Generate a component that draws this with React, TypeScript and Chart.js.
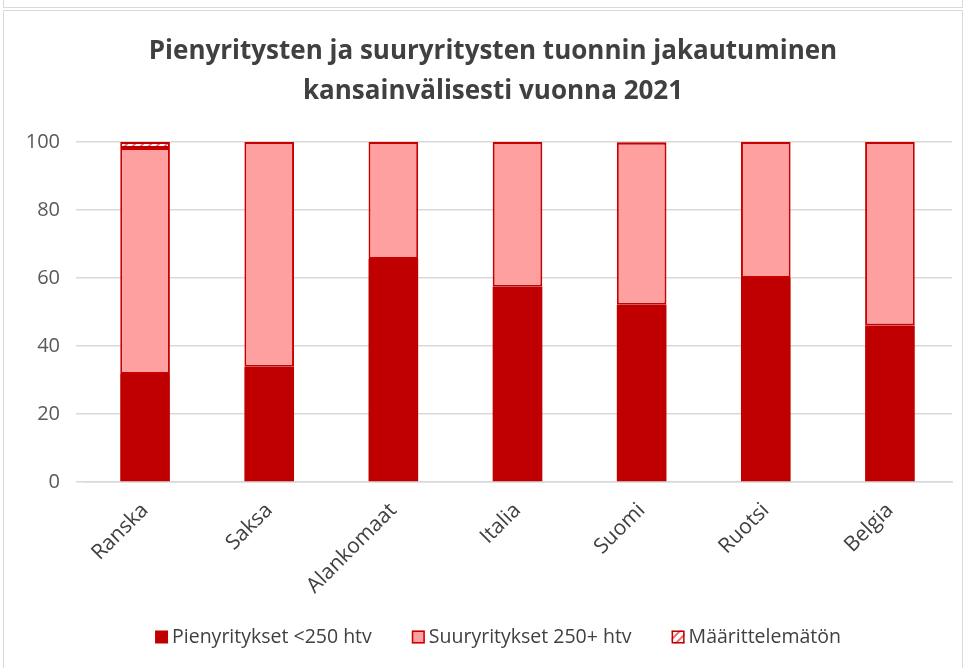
import React, { useEffect, useRef } from "react";
import { Chart, registerables } from "chart.js";

Chart.register(...registerables);

const titleLines = [
  "Pienyritysten ja suuryritysten tuonnin jakautuminen",
  "kansainvälisesti vuonna 2021",
];
const categories = ["Ranska", "Saksa", "Alankomaat", "Italia", "Suomi", "Ruotsi", "Belgia"];
const seriesNames = ["Pienyritykset <250 htv", "Suuryritykset 250+ htv", "Määrittelemätön"];
const pienValues = [31.8, 33.9, 65.6, 57.4, 52.1, 60.0, 46.0];
const suurValues = [66.4, 66.1, 34.4, 42.6, 47.7, 40.0, 54.0];
const maarValues = [1.8, 0, 0, 0, 0.2, 0, 0];
const yTicks = [0, 20, 40, 60, 80, 100];

const FONT = "'Open Sans', 'DejaVu Sans', sans-serif";

function makePattern(): CanvasPattern | string {
  const c = document.createElement("canvas");
  c.width = 8;
  c.height = 8;
  const ctx = c.getContext("2d");
  if (!ctx) return "#ffffff";
  ctx.fillStyle = "#ffffff";
  ctx.fillRect(0, 0, 8, 8);
  ctx.strokeStyle = "#f07070";
  ctx.lineWidth = 2;
  ctx.beginPath();
  ctx.moveTo(-2, 10);
  ctx.lineTo(10, -2);
  ctx.moveTo(-6, 6);
  ctx.lineTo(6, -6);
  ctx.moveTo(2, 14);
  ctx.lineTo(14, 2);
  ctx.stroke();
  const p = ctx.createPattern(c, "repeat");
  return p || "#ffffff";
}

// Shift the title block so it is centred like the original
const titleShift = {
  id: "titleShift",
  afterLayout(chart: any) {
    if (chart.titleBlock) {
      chart.titleBlock.left += 30;
    }
  },
};

// Custom bottom legend (Excel-like spacing)
const bottomLegend = {
  id: "bottomLegend",
  afterDraw(chart: any) {
    const ctx = chart.ctx as CanvasRenderingContext2D;
    const box = 13;
    const gap = 4;
    const spacing = 40;
    const centerX = chart.width / 2 + 15;
    const centerY = 626;
    ctx.save();
    ctx.font = `19.5px ${FONT}`;
    ctx.textBaseline = "middle";
    ctx.textAlign = "left";
    const items = chart.data.datasets.map((ds: any) => ({
      text: ds.label as string,
      fill: ds.backgroundColor,
      stroke: ds.borderColor,
      bw: ds.borderWidth || 0,
      w: ctx.measureText(ds.label).width,
    }));
    const total =
      items.reduce((s: number, it: any) => s + box + gap + it.w, 0) + spacing * (items.length - 1);
    let x = centerX - total / 2;
    for (const it of items) {
      ctx.fillStyle = it.fill;
      ctx.fillRect(x, centerY - box / 2, box, box);
      if (it.bw > 0) {
        ctx.strokeStyle = it.stroke;
        ctx.lineWidth = 1.5;
        ctx.strokeRect(x + 0.75, centerY - box / 2 + 0.75, box - 1.5, box - 1.5);
      }
      ctx.fillStyle = "#404040";
      ctx.fillText(it.text, x + box + gap, centerY);
      x += box + gap + it.w + spacing;
    }
    ctx.restore();
  },
};

export default function App() {
  const canvasRef = useRef<HTMLCanvasElement | null>(null);

  useEffect(() => {
    const canvas = canvasRef.current;
    if (!canvas) return;
    const pattern = makePattern();
    const chart = new Chart(canvas, {
      type: "bar",
      data: {
        labels: categories,
        datasets: [
          {
            label: seriesNames[0],
            data: pienValues,
            backgroundColor: "#c00000",
            borderColor: "#c00000",
            borderWidth: 0,
            borderSkipped: false,
          },
          {
            label: seriesNames[1],
            data: suurValues,
            backgroundColor: "#ffa0a0",
            borderColor: "#c80000",
            borderWidth: 2,
            borderSkipped: false,
          },
          {
            label: seriesNames[2],
            data: maarValues,
            backgroundColor: pattern as any,
            borderColor: "#c00000",
            borderWidth: 2,
            borderSkipped: false,
          },
        ],
      },
      options: {
        responsive: false,
        animation: false,
        datasets: {
          bar: {
            categoryPercentage: 1,
            barPercentage: 0.4,
          },
        },
        layout: {
          padding: { left: 0, right: 10, top: 0, bottom: 0 },
        },
        scales: {
          x: {
            stacked: true,
            grid: { display: false },
            border: { display: true, color: "#d9d9d9", width: 1.5 },
            ticks: {
              color: "#404040",
              font: { family: FONT, size: 21 },
              maxRotation: 45,
              minRotation: 45,
              padding: 8,
            },
            afterFit: (scale: any) => {
              scale.height = 186;
            },
          },
          y: {
            stacked: true,
            min: 0,
            max: 100,
            afterBuildTicks: (scale: any) => {
              scale.ticks = yTicks.map((v) => ({ value: v }));
            },
            grid: {
              color: "#d9d9d9",
              lineWidth: 1.5,
              drawTicks: true,
              tickLength: 7,
            },
            border: { display: false },
            ticks: {
              color: "#595959",
              font: { family: FONT, size: 20 },
              padding: 16,
            },
            afterFit: (scale: any) => {
              scale.width = 79;
            },
          },
        },
        plugins: {
          title: {
            display: true,
            text: titleLines,
            color: "#404040",
            font: { family: FONT, size: 26, weight: "bold", lineHeight: 40 / 26 },
            padding: { top: 21, bottom: 30 },
          },
          legend: { display: false },
          tooltip: { enabled: false },
        },
      } as any,
      plugins: [titleShift, bottomLegend],
    });
    return () => {
      chart.destroy();
    };
  }, []);

  return (
    <div style={{ position: "absolute", left: 0, top: 0, width: 966, height: 668, overflow: "hidden", background: "#ffffff" }}>
      <div
        style={{
          position: "absolute",
          left: 3,
          top: -10,
          width: 958,
          height: 16,
          border: "1px solid #d9d9d9",
        }}
      />
      <div
        style={{
          position: "absolute",
          left: 3,
          top: 10,
          width: 958,
          height: 670,
          border: "1px solid #d9d9d9",
        }}
      />
      <canvas
        ref={canvasRef}
        width={958}
        height={657}
        style={{ position: "absolute", left: 4, top: 11, width: 958, height: 657 }}
      />
    </div>
  );
}
